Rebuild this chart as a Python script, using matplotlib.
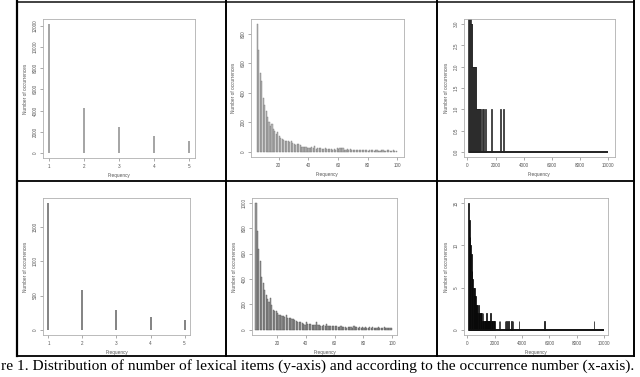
import numpy as np
import matplotlib.pyplot as plt
from matplotlib.lines import Line2D

plt.rcParams['font.family'] = ['Liberation Sans', 'DejaVu Sans']

# ---- data ----
# panels 1/4: frequency 1..5
freq_small = [1, 2, 3, 4, 5]
top_small = [12160, 4200, 2430, 1580, 1105]
bot_small = [1848, 583, 287, 191, 138]

# panels 2/5: frequency 5..99 (bar left edges)
freq_mid = list(range(5, 100))
top_mid = [867, 690, 537, 479, 369, 321, 279, 234, 204, 175, 189, 157, 144, 121, 135,
           108, 94, 85, 81, 72, 76, 72, 65, 72, 63, 54, 47, 54, 52, 45, 36, 36, 31, 31, 29,
           28, 27, 30, 24, 42, 22, 27, 25, 28, 22, 20, 24, 19, 18, 22, 17, 15, 20, 16, 26,
           17, 27, 25, 24, 16, 14, 18, 13, 17, 15, 12, 16, 11, 14, 13, 12, 15, 10, 12, 11,
           9, 12, 10, 11, 9, 10, 12, 9, 8, 10, 14, 9, 8, 11, 12, 8, 9, 13, 7, 9]
bot_mid = [997, 778, 637, 541, 418, 366, 314, 276, 242, 219, 247, 198, 160, 147, 152,
           134, 121, 116, 106, 111, 100, 116, 90, 95, 95, 85, 82, 75, 70, 64, 62, 59, 54, 49, 41,
           64, 50, 47, 45, 40, 38, 42, 64, 36, 38, 34, 32, 35, 30, 46, 28, 30, 27, 32, 34,
           30, 28, 26, 24, 27, 22, 20, 24, 19, 21, 25, 22, 18, 28, 20, 24, 18, 22, 19, 26,
           17, 20, 18, 16, 22, 15, 24, 16, 18, 14, 20, 17, 15, 18, 21, 16, 14, 12, 15, 18]

# panels 3/6: frequency 100..10000, only non-zero counts listed
big_range = (100, 10000)
top_big_freq = [110, 140, 170, 200, 230, 260, 290, 320, 350, 380, 410, 440, 480, 520,
                560, 600, 640, 670, 700, 730, 760, 790, 820, 850, 880, 910,
                1060, 1135, 1300, 1730, 2370, 2530]
top_big_cnt = [4, 4, 4, 4, 3, 3, 3, 2, 2, 2, 2, 2, 2, 2,
               2, 2, 1, 1, 1, 1, 1, 1, 1, 1, 1, 1,
               1, 1, 1, 1, 1, 1]
bot_big_freq = [100, 150, 200, 250, 300, 350, 400, 450, 500, 550, 600, 650, 700, 750,
                800, 850, 900, 950, 1000, 1050, 1100, 1150, 1200, 1250, 1300, 1350,
                1400, 1450, 1500, 1550, 1600, 1650, 1700, 1750, 1800, 1850, 1900, 1950,
                2000, 2310, 2390, 2750, 2870, 2990, 3240, 3330, 3780, 5640, 9250]
bot_big_cnt = [15, 13, 11, 10, 9, 7, 6, 5, 5, 4, 4, 3, 3, 2,
               3, 2, 2, 2, 2, 2, 1, 2, 1, 1, 1, 1,
               2, 1, 1, 1, 1, 1, 2, 1, 1, 1, 1, 1,
               1, 1, 1, 1, 1, 1, 1, 1, 1, 1, 1]

xlab = "Frequency"
ylab = "Number of occurrences"
# the reference crops the start of the caption; only the visible part is kept
caption = ("re 1. Distribution of number of lexical items (y-axis) and according to "
           "the occurrence number (x-axis).")


def r_lim(lo, hi):
    d = hi - lo
    return lo - 0.04 * d, hi + 0.04 * d


W, H = 640, 377
fig = plt.figure(figsize=(W / 100, H / 100), dpi=100)


def add_ax(left, top, right, bottom):
    ax = fig.add_axes([left / W, 1 - bottom / H, (right - left) / W, (bottom - top) / H])
    for s in ax.spines.values():
        s.set_color('#b0b0b0')
        s.set_linewidth(0.6)
    ax.tick_params(labelsize=3.3, length=2.5, width=0.5, color='#888888', pad=1.5,
                   labelcolor='#555555')
    ax.tick_params(axis='y', labelrotation=90)
    ax.set_xlabel(xlab, fontsize=3.4, color='#555555', labelpad=3)
    ax.set_ylabel(ylab, fontsize=3.4, color='#555555', labelpad=3)
    return ax


def style_yticks(ax):
    for t in ax.get_yticklabels():
        t.set_verticalalignment('center')


# panel 1
ax = add_ax(43, 19, 195, 158)
ax.vlines(freq_small, 0, top_small, color='#8c8c8c', lw=1.1)
ax.set_xlim(*r_lim(1, 5))
ax.set_ylim(*r_lim(0, max(top_small)))
ax.set_xticks(freq_small)
ax.set_yticks([0, 2000, 4000, 6000, 8000, 10000, 12000])
style_yticks(ax)

# panel 2
ax = add_ax(251, 19, 404, 157)
ax.bar(freq_mid, top_mid, width=0.75, align='edge', color='#b8b8b8',
       edgecolor='#7a7a7a', linewidth=0.3)
ax.set_xlim(1.2, 104.6)
ax.set_ylim(*r_lim(0, max(top_mid)))
ax.set_xticks([20, 40, 60, 80, 100])
ax.set_yticks([0, 200, 400, 600, 800])
style_yticks(ax)

# panel 3
ax = add_ax(464, 19, 615, 157)
ax.hlines(0, big_range[0], big_range[1], color='#222222', lw=1.4)
ax.bar(top_big_freq, top_big_cnt, width=70, color='#a8a8a8', edgecolor='#111111',
       linewidth=0.5)
ax.set_xlim(-240, 10480)
ax.set_ylim(*r_lim(0, 3))
ax.set_xticks([0, 2000, 4000, 6000, 8000, 10000])
ax.set_yticks([0, 0.5, 1, 1.5, 2, 2.5, 3])
ax.set_yticklabels(['0.0', '0.5', '1.0', '1.5', '2.0', '2.5', '3.0'])
style_yticks(ax)

# panel 4
ax = add_ax(43, 198, 190, 335)
ax.vlines(freq_small, 0, bot_small, color='#6e6e6e', lw=1.2)
ax.set_xlim(*r_lim(1, 5))
ax.set_ylim(*r_lim(0, max(bot_small)))
ax.set_xticks(freq_small)
ax.set_yticks([0, 500, 1000, 1500])
style_yticks(ax)

# panel 5
ax = add_ax(252, 198, 397, 335)
ax.bar(freq_mid, bot_mid, width=0.8, align='edge', color='#9a9a9a',
       edgecolor='#555555', linewidth=0.3)
ax.set_xlim(2.6, 103.3)
ax.set_ylim(*r_lim(0, max(bot_mid)))
ax.set_xticks([20, 40, 60, 80, 100])
ax.set_yticks([0, 200, 400, 600, 800, 1000])
style_yticks(ax)

# panel 6
ax = add_ax(464, 198, 608, 335)
ax.hlines(0, big_range[0], big_range[1], color='#111111', lw=1.4)
ax.bar(bot_big_freq, bot_big_cnt, width=60, color='#333333', edgecolor='#000000',
       linewidth=0.5)
ax.set_xlim(-240, 10270)
ax.set_ylim(*r_lim(0, 15))
ax.set_xticks([0, 2000, 4000, 6000, 8000, 10000])
ax.set_yticks([0, 5, 10, 15])
style_yticks(ax)

# table rules
def hline(y, x0, x1, lw=1.2, c='black'):
    fig.add_artist(Line2D([x0 / W, x1 / W], [1 - y / H, 1 - y / H], color=c, lw=lw))


def vline(x, y0, y1, lw=1.2, c='black'):
    fig.add_artist(Line2D([x / W, x / W], [1 - y0 / H, 1 - y1 / H], color=c, lw=lw))


hline(1.5, 17, 634, lw=1.3, c='#333333')
hline(181, 17, 634, lw=1.3)
hline(356, 17, 634, lw=1.3)
vline(17, 1, 356, lw=1.6)
vline(226, 1, 356, lw=1.4)
vline(437, 1, 356, lw=1.4)
vline(634, 1, 356, lw=1.4)

fig.text(1 / W, 1 - 366 / H, caption, ha='left', va='center', fontsize=11.1,
         family=['Liberation Serif', 'DejaVu Serif'])

fig.savefig('out.png', dpi=100)
